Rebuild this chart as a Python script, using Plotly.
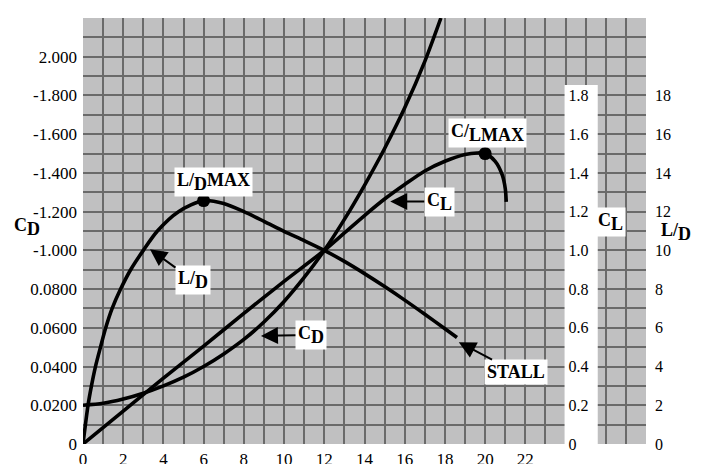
import plotly.graph_objects as go

# axis labels as printed on the chart
aoa_labels = ["0", "2", "4", "6", "8", "10", "12", "14", "16", "18", "20", "22"]
cd_labels = ["0", "0.0200", "0.0400", "0.0600", "0.0800", "-1.000",
             "-1.200", "-1.400", "-1.600", "-1.800", "2.000"]
cl_labels = ["0", "0.2", "0.4", "0.6", "0.8", "1.0", "1.2", "1.4", "1.6", "1.8"]
ld_labels = ["0", "2", "4", "6", "8", "10", "12", "14", "16", "18"]

# lift coefficient C_L vs angle of attack
cl_aoa = [0, 2, 4, 6, 8, 10, 12, 13, 14, 15, 16, 17, 18, 19, 19.6, 20, 20.5, 20.85, 21.0, 21.05]
cl_val = [0, 0.17, 0.34, 0.505, 0.675, 0.84, 1.0, 1.09, 1.18, 1.265, 1.34, 1.41, 1.46,
          1.495, 1.503, 1.5, 1.46, 1.39, 1.32, 1.25]

# drag coefficient C_D (in left-scale label steps)
cd_aoa = [0, 1, 2, 3, 4, 5, 6, 7, 8, 9, 10, 11, 12, 13, 14, 15, 16, 17, 17.8]
cd_val = [1.0, 1.05, 1.16, 1.31, 1.5, 1.725, 2.0, 2.325, 2.7, 3.15, 3.68, 4.3, 5.0,
          5.8, 6.68, 7.63, 8.68, 9.88, 11.0]

# lift / drag ratio
ld_aoa = [0, 0.25, 0.42, 0.62, 0.87, 1.13, 1.45, 1.87, 2.37, 3.0, 3.7, 4.75, 6.0,
          7.0, 8.0, 9.0, 10.0, 11.0, 12.0, 13.0, 14.0, 15.0, 16.0, 17.0, 18.0, 18.6]
ld_val = [0, 2, 3, 4, 5, 6, 7, 8, 9, 10, 11, 12, 12.57,
          12.42, 12.0, 11.5, 10.98, 10.5, 10.0, 9.43, 8.8, 8.13, 7.43, 6.7, 5.95, 5.5]

ld_max = (6.0, 12.57)
cl_max = (20.0, 1.5)

FONT = "Liberation Serif, 'Times New Roman', Times, serif"
GRID = "#6a6a6a"
LINE = dict(color="black", width=3.6, shape="spline", smoothing=0.8)


def sub(text):
    # same-size lowered letters, like the printed chart
    return f"<sub><span style='font-size:18px'>{text}</span></sub>"


fig = go.Figure()

fig.add_trace(go.Scatter(x=cd_aoa, y=cd_val, mode="lines", line=LINE,
                         yaxis="y", hoverinfo="skip"))
fig.add_trace(go.Scatter(x=ld_aoa, y=ld_val, mode="lines", line=LINE,
                         yaxis="y2", hoverinfo="skip"))
fig.add_trace(go.Scatter(x=cl_aoa, y=cl_val, mode="lines", line=LINE,
                         yaxis="y3", hoverinfo="skip"))
fig.add_trace(go.Scatter(x=[ld_max[0]], y=[ld_max[1]], mode="markers", yaxis="y2",
                         marker=dict(size=13, color="black"), hoverinfo="skip"))
fig.add_trace(go.Scatter(x=[cl_max[0]], y=[cl_max[1]], mode="markers", yaxis="y3",
                         marker=dict(size=13, color="black"), hoverinfo="skip"))

# white strip behind the C_L scale
fig.add_shape(type="rect", xref="x", yref="y", x0=23.95, x1=25.6, y0=0, y1=9.27,
              fillcolor="white", line=dict(width=0), layer="between")

n_x = 28
x_text = [str(v) if str(v) in aoa_labels else "" for v in range(n_x + 1)]
y_vals = [i * 0.5 for i in range(23)]
y_text = [cd_labels[int(v)] if v == int(v) and int(v) < len(cd_labels) else "" for v in y_vals]

# page body has an 8px margin, so the figure is drawn 8px smaller
fig.update_layout(
    width=696, height=456,
    margin=dict(l=75, r=58, t=10, b=20, autoexpand=False),
    paper_bgcolor="white",
    plot_bgcolor="#c0c0c1",
    showlegend=False,
    font=dict(family=FONT, size=17, color="black"),
    xaxis=dict(range=[0, n_x], tickmode="array", tickvals=list(range(n_x + 1)),
               ticktext=x_text, showgrid=True, gridcolor=GRID, gridwidth=1.8,
               zeroline=False, showline=False, ticks="", ticklabelstandoff=3,
               automargin=False, tickfont=dict(family=FONT, size=17)),
    yaxis=dict(range=[0, 11], tickmode="array", tickvals=y_vals, ticktext=y_text,
               showgrid=True, gridcolor=GRID, gridwidth=1.8, zeroline=False,
               showline=False, ticks="", ticklabelstandoff=5, automargin=False,
               tickfont=dict(family=FONT, size=17)),
    yaxis2=dict(range=[0, 22], overlaying="y", side="right", tickmode="array",
                tickvals=[int(t) for t in ld_labels], ticktext=ld_labels,
                showgrid=False, zeroline=False, showline=False, ticks="",
                ticklabelstandoff=8, automargin=False,
                tickfont=dict(family=FONT, size=16)),
    yaxis3=dict(range=[0, 2.2], overlaying="y", side="right", anchor="free",
                position=0.857, tickmode="array",
                tickvals=[float(t) for t in cl_labels], ticktext=cl_labels,
                showgrid=False, zeroline=False, showline=False, ticks="",
                ticklabelstandoff=2, automargin=False,
                tickfont=dict(family=FONT, size=16)),
)

bold = dict(family=FONT, size=18, color="black", weight="bold")
box = dict(bgcolor="white", borderpad=2, showarrow=False, font=bold)
arrow = dict(showarrow=True, arrowhead=2, arrowsize=1.7, arrowwidth=2,
             arrowcolor="black", bgcolor="white", borderpad=2, font=bold)

fig.add_annotation(x=6.49, y=6.77, text="L/" + sub("D") + "MAX", **box)
fig.add_annotation(x=20.12, y=8.04, text="C/" + sub("L") + sub("MAX"), **box)
fig.add_annotation(x=3.33, y=5.03, ax=43, ay=31, text="L/" + sub("D"), **arrow)
fig.add_annotation(x=8.85, y=2.79, ax=50, ay=-1, text="C" + sub("D"), **arrow)
fig.add_annotation(x=15.28, y=6.26, ax=49, ay=0, text="C" + sub("L"), **arrow)
fig.add_annotation(x=18.69, y=2.63, ax=57, ay=30, text="STALL", **arrow)

# axis titles
fig.add_annotation(x=26.21, y=5.72, text="C" + sub("L"), **box)
fig.add_annotation(xref="paper", yref="paper", x=-0.099, y=0.51, xanchor="center",
                   text="C" + sub("D"), showarrow=False, font=bold)
fig.add_annotation(xref="paper", yref="paper", x=1.053, y=0.498, xanchor="center",
                   text="L/" + sub("D"), showarrow=False, font=bold)

fig.write_html("out.html")
